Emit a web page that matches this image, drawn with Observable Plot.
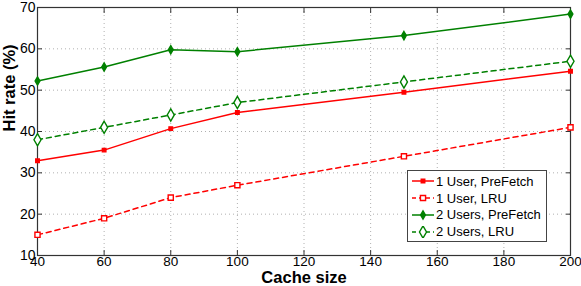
<!DOCTYPE html>
<html><head><meta charset="utf-8">
<script src="https://cdn.jsdelivr.net/npm/d3@7"></script>
<script src="https://cdn.jsdelivr.net/npm/@observablehq/plot@0.6"></script>
<style>
body{margin:0;background:#fff;font-family:"Liberation Sans",Arial,sans-serif;}
#wrap{position:relative;width:581px;height:286px;}
#wrap > svg{overflow:visible;}
#legend{position:absolute;left:407px;top:170px;width:140px;height:72px;border:1px solid #444;background:#fff;box-sizing:border-box;font-size:13px;color:#000;padding:2px 0 0 3px;}
#legend .row{display:flex;align-items:center;height:16.8px;}
#legend svg{margin-right:1px;}
</style></head>
<body><div id="wrap"><div id="legend"></div></div>
<script>
const cacheSizes = [40, 60, 80, 100, 150, 200];
const user1PreFetch = [32.9, 35.5, 40.7, 44.6, 49.5, 54.6];
const user1LRU = [15, 19, 24, 27, 34, 41];
const users2PreFetch = [52.2, 55.6, 59.8, 59.3, 63.2, 68.4];
const users2LRU = [38, 41, 44, 47, 52, 57];
const xTicks = [40, 60, 80, 100, 120, 140, 160, 180, 200];
const yTicks = [10, 20, 30, 40, 50, 60, 70];
const seriesNames = ["1 User, PreFetch", "1 User, LRU", "2 Users, PreFetch", "2 Users, LRU"];

const series = [
  {name: seriesNames[0], values: user1PreFetch, color: "#ff0000", dash: null, symbol: "square", fill: "#ff0000", r: 2.0},
  {name: seriesNames[1], values: user1LRU, color: "#ff0000", dash: "5,4", symbol: "square", fill: "white", r: 2.9},
  {name: seriesNames[2], values: users2PreFetch, color: "#008000", dash: null, symbol: "diamond", fill: "#008000", r: 2.5},
  {name: seriesNames[3], values: users2LRU, color: "#008000", dash: "5,4", symbol: "diamond", fill: "white", r: 3.7}
];

const marks = [
  Plot.gridX(xTicks, {stroke: "#b0b0b0", strokeOpacity: 1, strokeDasharray: "1,3"}),
  Plot.gridY(yTicks, {stroke: "#b0b0b0", strokeOpacity: 1, strokeDasharray: "1,3"}),
  Plot.axisX(xTicks, {anchor: "bottom", tickSize: -5, tickPadding: 6, fontSize: 13.5, label: null, stroke: "#333"}),
  Plot.axisX(xTicks, {anchor: "top", tickSize: -5, tickFormat: () => "", label: null, stroke: "#333"}),
  Plot.axisY(yTicks, {anchor: "left", tickSize: -5, tickPadding: 7, fontSize: 14, label: null, stroke: "#333"}),
  Plot.axisY(yTicks, {anchor: "right", tickSize: -5, tickFormat: () => "", label: null, stroke: "#333"}),
  Plot.frame({stroke: "#333", strokeWidth: 1.2})
];
for (const s of series) {
  const data = cacheSizes.map((c, i) => ({x: c, y: s.values[i]}));
  marks.push(Plot.line(data, {x: "x", y: "y", stroke: s.color, strokeWidth: 1.5, strokeDasharray: s.dash}));
  marks.push(Plot.dot(data, {x: "x", y: "y", stroke: s.color, strokeWidth: 1.4, fill: s.fill, symbol: s.symbol, r: s.r}));
}
marks.push(Plot.text(["Cache size"], {frameAnchor: "bottom", lineAnchor: "middle", dy: 22, fontSize: 16.5, fontWeight: "bold", fill: "#000"}));
marks.push(Plot.text(["Hit rate (%)"], {frameAnchor: "left", lineAnchor: "middle", dx: -28, rotate: -90, fontSize: 16.5, fontWeight: "bold", fill: "#000"}));

const chart = Plot.plot({
  width: 581, height: 286,
  marginLeft: 37, marginRight: 11, marginTop: 7, marginBottom: 31,
  x: {domain: [40, 200]},
  y: {domain: [10, 70]},
  style: {fontFamily: "'Liberation Sans', Arial, sans-serif", color: "#000", background: "white", overflow: "visible"},
  marks
});
document.getElementById("wrap").prepend(chart);

const legend = document.getElementById("legend");
for (const s of series) {
  const row = document.createElement("div");
  row.className = "row";
  const ns = "http://www.w3.org/2000/svg";
  const svg = document.createElementNS(ns, "svg");
  svg.setAttribute("width", 24); svg.setAttribute("height", 12);
  const line = document.createElementNS(ns, "line");
  line.setAttribute("x1", 1); line.setAttribute("x2", 23); line.setAttribute("y1", 6); line.setAttribute("y2", 6);
  line.setAttribute("stroke", s.color); line.setAttribute("stroke-width", 1.5);
  if (s.dash) line.setAttribute("stroke-dasharray", "4,3");
  svg.appendChild(line);
  const sym = document.createElementNS(ns, "path");
  const size = Math.PI * s.r * s.r;
  sym.setAttribute("d", d3.symbol(s.symbol === "square" ? d3.symbolSquare : d3.symbolDiamond, size)());
  sym.setAttribute("transform", "translate(12,6)");
  sym.setAttribute("fill", s.fill); sym.setAttribute("stroke", s.color); sym.setAttribute("stroke-width", 1.4);
  svg.appendChild(sym);
  row.appendChild(svg);
  const t = document.createElement("span");
  t.textContent = s.name;
  row.appendChild(t);
  legend.appendChild(row);
}
</script>
</body></html>
